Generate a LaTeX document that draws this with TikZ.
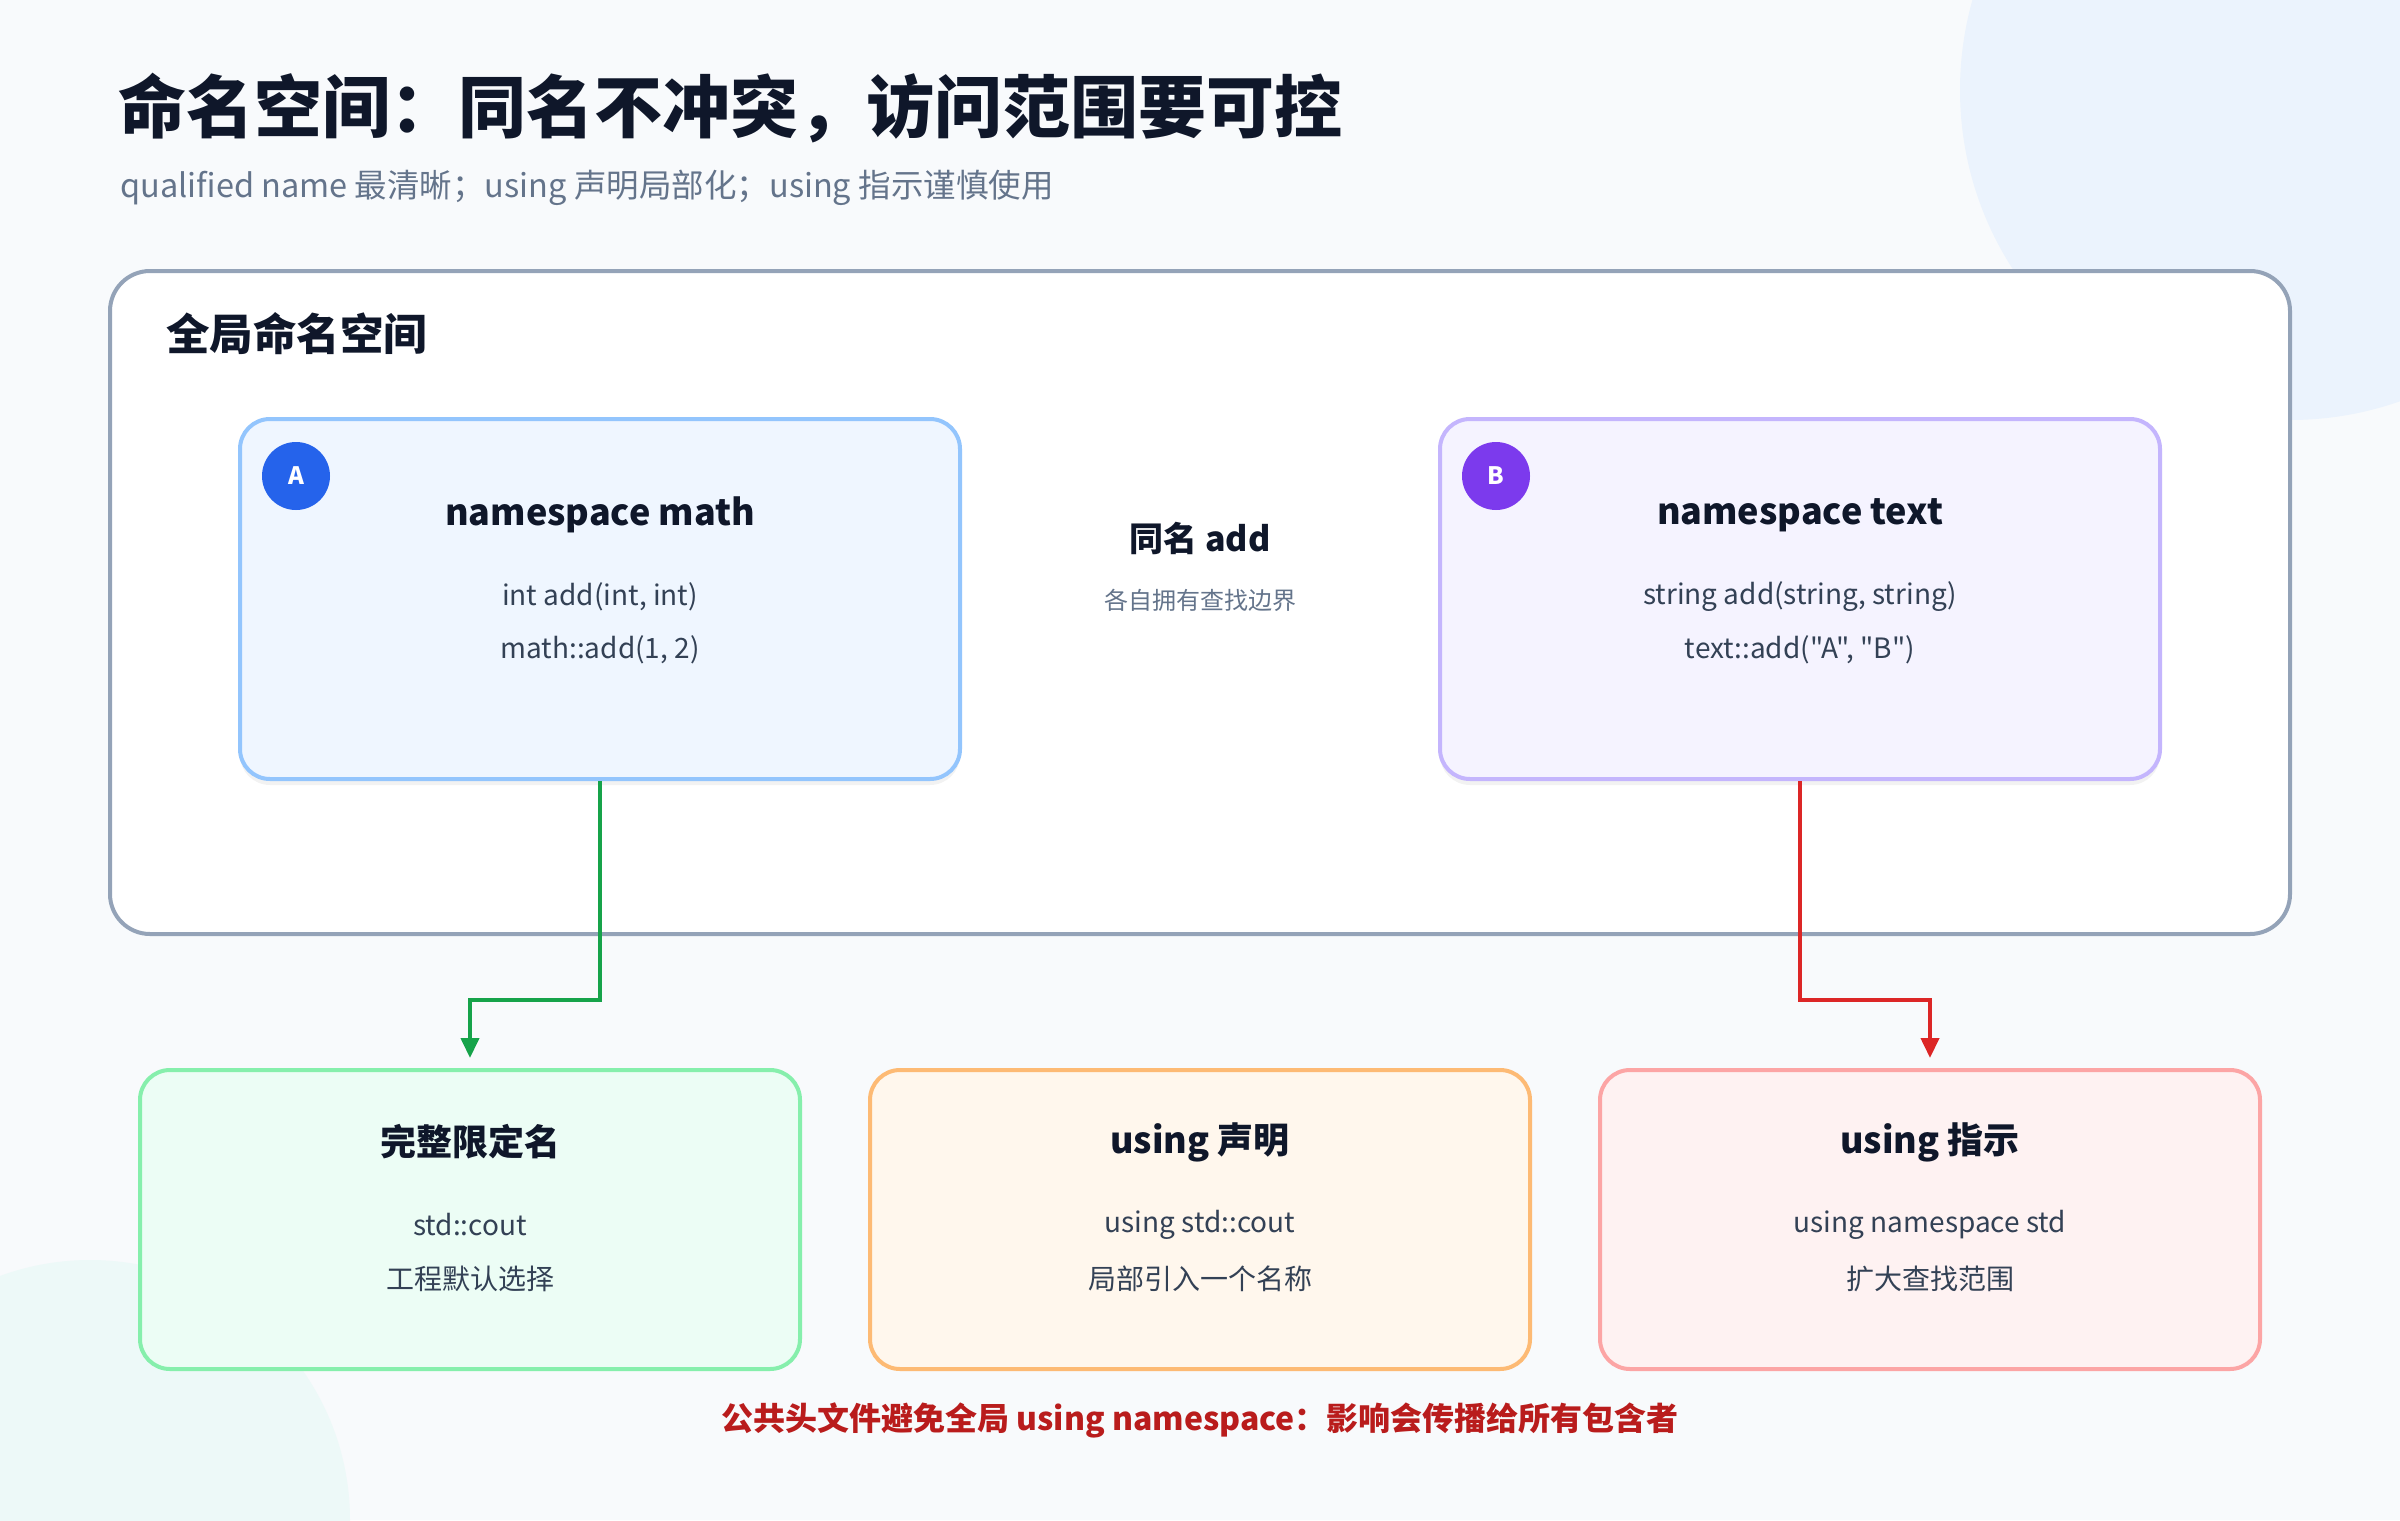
\documentclass[tikz,border=0pt]{standalone}
\usepackage{fontspec}
\setmainfont{Noto Sans CJK SC}[Ligatures=TeXOff]
\usepackage{xcolor}
\usetikzlibrary{arrows.meta, shadows}

\definecolor{pagebg}{HTML}{F8FAFC}
\definecolor{blobblue}{HTML}{EBF3FD}
\definecolor{blobteal}{HTML}{EDF9F8}
\definecolor{ink}{HTML}{0F172A}
\definecolor{body}{HTML}{334155}
\definecolor{muted}{HTML}{64748B}
\definecolor{frame}{HTML}{94A3B8}
\definecolor{mathfill}{HTML}{EFF6FF}
\definecolor{mathline}{HTML}{93C5FD}
\definecolor{mathdot}{HTML}{2563EB}
\definecolor{textfill}{HTML}{F5F3FF}
\definecolor{textline}{HTML}{C4B5FD}
\definecolor{textdot}{HTML}{7C3AED}
\definecolor{qualfill}{HTML}{ECFDF5}
\definecolor{qualline}{HTML}{86EFAC}
\definecolor{declfill}{HTML}{FFF7ED}
\definecolor{declline}{HTML}{FDBA74}
\definecolor{dirfill}{HTML}{FEF2F2}
\definecolor{dirline}{HTML}{FCA5A5}
\definecolor{okgreen}{HTML}{16A34A}
\definecolor{warnred}{HTML}{DC2626}
\definecolor{notered}{HTML}{B91C1C}

\tikzstyle{panel} = [draw, line width=4pt, rounded corners=30pt, minimum width=720pt, minimum height=360pt, inner sep=0pt,
  drop shadow={shadow xshift=0pt, shadow yshift=-6pt, opacity=0.05, fill=black}]
\tikzstyle{card} = [draw, line width=4pt, rounded corners=30pt, minimum width=660pt, minimum height=299pt, inner sep=0pt]
\tikzstyle{badge} = [circle, minimum size=68pt, inner sep=0pt, text=white, font=\fontsize{24pt}{28pt}\selectfont\bfseries]
\tikzstyle{heading} = [inner sep=0pt, text=ink, font=\fontsize{36pt}{42pt}\selectfont\bfseries]
\tikzstyle{codeline} = [inner sep=0pt, text=body, font=\fontsize{28pt}{34pt}\selectfont]
\tikzstyle{arrow} = [line width=4pt, -{Triangle[length=20pt,width=18pt]}, shorten >=10pt]

\begin{document}
\begin{tikzpicture}[x=1pt, y=-1pt]
    % Background
    \useasboundingbox (0,0) rectangle (2400,1520);
    \fill[pagebg] (0,0) rectangle (2400,1520);
    \begin{scope}
        \clip (0,0) rectangle (2400,1520);
        \fill[blobblue] (2290,90) circle (330pt);
        \fill[blobteal] (90,1520) circle (260pt);
    \end{scope}

    % Title
    \node[anchor=west, inner sep=0pt, text=ink, font=\fontsize{68pt}{80pt}\selectfont\bfseries] (title) at (118,108) {命名空间：同名不冲突，访问范围要可控};
    \node[anchor=west, inner sep=0pt, text=muted, font=\fontsize{32.5pt}{38pt}\selectfont] (subtitle) at (120,188) {qualified name 最清晰；using 声明局部化；using 指示谨慎使用};

    % Global namespace
    \node[draw=frame, fill=white, line width=4pt, rounded corners=40pt, minimum width=2180pt, minimum height=663pt] (global) at (1200,602.5) {};
    \node[anchor=west, inner sep=0pt, text=ink, font=\fontsize{43.5pt}{50pt}\selectfont\bfseries] (global_label) at (166,334) {全局命名空间};

    % namespace math
    \node[panel, draw=mathline, fill=mathfill] (ns_math) at (600,599) {};
    \node[badge, fill=mathdot] (badge_a) at (296,476) {A};
    \node[heading] (math_title) at (600,515) {namespace math};
    \node[codeline] (math_decl) at (600,597) {int add(int, int)};
    \node[codeline] (math_call) at (600,650) {math::add(1, 2)};

    % namespace text
    \node[panel, draw=textline, fill=textfill] (ns_text) at (1800,599) {};
    \node[badge, fill=textdot] (badge_b) at (1496,476) {B};
    \node[heading] (text_title) at (1800,515) {namespace text};
    \node[codeline] (text_decl) at (1800,597) {string add(string, string)};
    \node[codeline] (text_call) at (1800,650) {text::add("A", "B")};

    % Same name in the middle
    \node[inner sep=0pt, text=ink, font=\fontsize{34pt}{40pt}\selectfont\bfseries] (same_name) at (1200,538) {同名 add};
    \node[inner sep=0pt, text=muted, font=\fontsize{24pt}{28pt}\selectfont] (same_note) at (1200,600) {各自拥有查找边界};

    % Ways of access
    \node[card, draw=qualline, fill=qualfill] (qual) at (470,1219.5) {};
    \node[heading] (qual_title) at (470,1142) {完整限定名};
    \node[codeline] (qual_code) at (470,1225) {std::cout};
    \node[codeline] (qual_note) at (470,1279) {工程默认选择};

    \node[card, draw=declline, fill=declfill] (decl) at (1200,1219.5) {};
    \node[heading] (decl_title) at (1200,1142) {using 声明};
    \node[codeline] (decl_code) at (1200,1225) {using std::cout};
    \node[codeline] (decl_note) at (1200,1279) {局部引入一个名称};

    \node[card, draw=dirline, fill=dirfill] (dir) at (1930,1219.5) {};
    \node[heading] (dir_title) at (1930,1142) {using 指示};
    \node[codeline] (dir_code) at (1930,1225) {using namespace std};
    \node[codeline] (dir_note) at (1930,1279) {扩大查找范围};

    % Warning
    \node[inner sep=0pt, text=notered, font=\fontsize{32pt}{38pt}\selectfont\bfseries] (warning) at (1200,1420) {公共头文件避免全局 using namespace：影响会传播给所有包含者};

    % Arrows
    \coordinate (bend_math) at (470,1000);
    \coordinate (bend_text) at (1930,1000);
    \draw[arrow, okgreen] (ns_math.south) |- (bend_math) -- (qual.north);
    \draw[arrow, warnred] (ns_text.south) |- (bend_text) -- (dir.north);
\end{tikzpicture}
\end{document}
